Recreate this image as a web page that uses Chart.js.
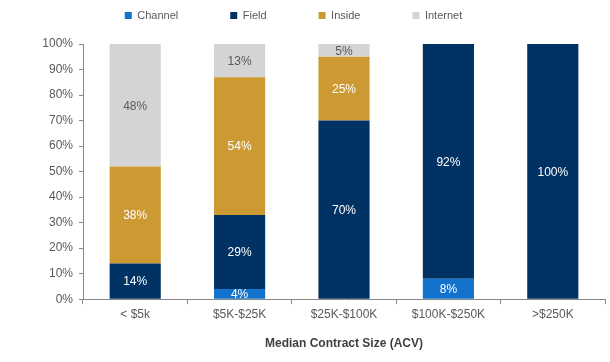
<!DOCTYPE html>
<html>
<head>
<meta charset="utf-8">
<script src="https://cdn.jsdelivr.net/npm/chart.js@4"></script>
<style>
  html, body { margin: 0; padding: 0; background: #fff; }
  #wrap { width: 610px; height: 362px; }
</style>
</head>
<body>
<div id="wrap"><canvas id="chart" width="610" height="362"></canvas></div>
<script>
const categories = ["< $5k", "$5K-$25K", "$25K-$100K", "$100K-$250K", ">$250K"];
const channel = [0, 4, 0, 8, 0];
const field = [14, 29, 70, 92, 100];
const inside = [38, 54, 25, 0, 0];
const internet = [48, 13, 5, 0, 0];

const FONT = "'Liberation Sans', Arial, sans-serif";

// draw the % labels in the middle of each segment
const segmentLabels = {
  id: "segmentLabels",
  afterDatasetsDraw(chart) {
    const ctx = chart.ctx;
    ctx.save();
    ctx.font = "12px " + FONT;
    ctx.textAlign = "center";
    ctx.textBaseline = "middle";
    chart.data.datasets.forEach((ds, i) => {
      const meta = chart.getDatasetMeta(i);
      meta.data.forEach((bar, j) => {
        const v = ds.data[j];
        if (!v) return;
        ctx.fillStyle = ds.labelColor;
        ctx.fillText(v + "%", bar.x, (bar.y + bar.base) / 2 + 1);
      });
    });
    ctx.restore();
  },
};

// the legend uses a wide item spacing, keep it from eating the plot height
const legendSpot = {
  id: "legendSpot",
  beforeLayout(chart) {
    const lg = chart.legend;
    if (lg && !lg._spotPatched) {
      const fit = lg.fit;
      lg.fit = function () {
        fit.call(this);
        this.height = 44;
      };
      lg._spotPatched = true;
    }
  },
  afterLayout(chart) {
    const lg = chart.legend;
    if (!lg) return;
    lg.top = -42;
    lg.left -= 9;
    lg.right -= 9;
  },
};

const mk = (label, data, color, labelColor) => ({
  label: label,
  data: data,
  backgroundColor: color,
  labelColor: labelColor,
  barPercentage: 0.49,
  categoryPercentage: 1,
});

new Chart(document.getElementById("chart"), {
  type: "bar",
  data: {
    labels: categories,
    datasets: [
      mk("Channel", channel, "#1272CC", "#ffffff"),
      mk("Field", field, "#003263", "#ffffff"),
      mk("Inside", inside, "#CC9933", "#ffffff"),
      mk("Internet", internet, "#D4D4D4", "#595959"),
    ],
  },
  options: {
    responsive: false,
    animation: false,
    layout: { padding: { left: 0, right: 5, top: 0, bottom: 7 } },
    plugins: {
      tooltip: { enabled: false },
      legend: {
        position: "top",
        labels: {
          boxWidth: 7,
          boxHeight: 7,
          padding: 52,
          color: "#595959",
          font: { family: FONT, size: 11 },
        },
      },
    },
    scales: {
      x: {
        stacked: true,
        grid: {
          display: true,
          drawOnChartArea: false,
          drawTicks: true,
          tickLength: 5,
          color: "#888888",
          offset: true,
        },
        border: { color: "#888888" },
        ticks: { color: "#595959", font: { family: FONT, size: 12 }, padding: 3 },
        title: {
          display: true,
          text: "Median Contract Size (ACV)",
          color: "#404040",
          font: { family: FONT, size: 12, weight: "bold" },
          padding: { top: 12 },
        },
      },
      y: {
        stacked: true,
        min: 0,
        max: 100,
        afterFit: (scale) => {
          scale.width = 83;
        },
        grid: {
          display: true,
          drawOnChartArea: false,
          drawTicks: true,
          tickLength: 4,
          color: "#888888",
        },
        border: { color: "#888888" },
        ticks: {
          stepSize: 10,
          color: "#595959",
          font: { family: FONT, size: 12 },
          padding: 6,
          callback: (v) => v + "%",
        },
      },
    },
  },
  plugins: [segmentLabels, legendSpot],
});
</script>
</body>
</html>
